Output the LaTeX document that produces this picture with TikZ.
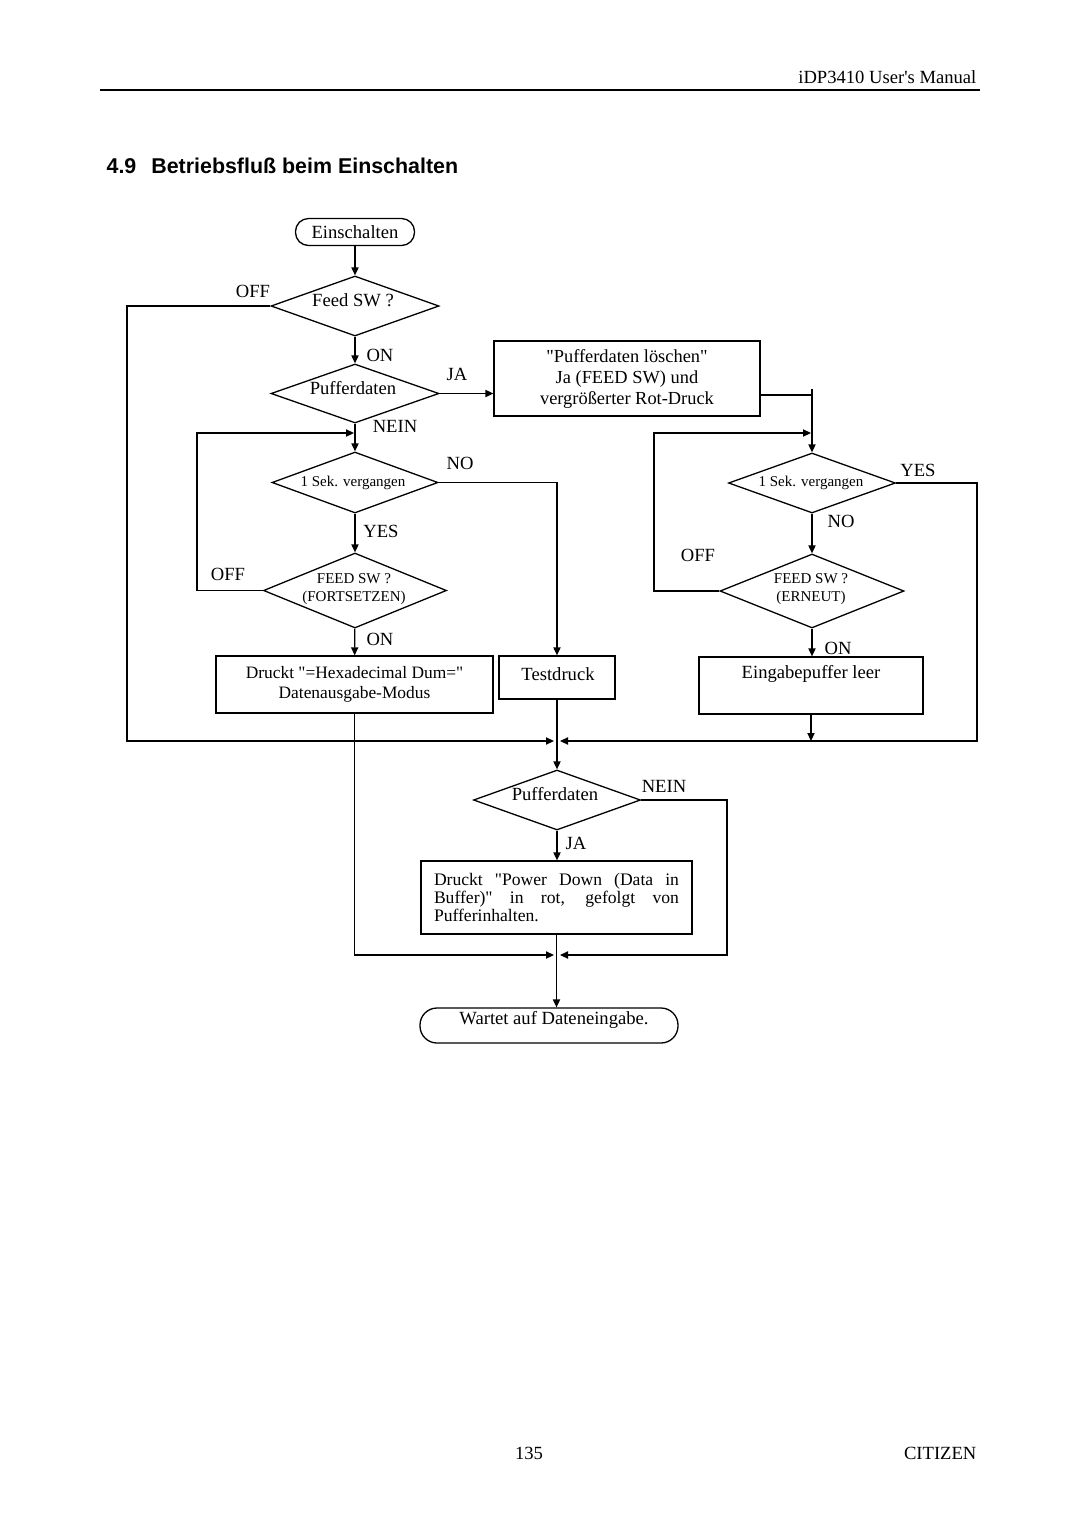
\documentclass[tikz,border=0pt]{standalone}
\usepackage{fontspec}
\setmainfont{Liberation Serif}[Ligatures=TeXOff]
\newfontfamily\headsans{Liberation Sans}
\usetikzlibrary{arrows.meta,shapes.geometric,calc}
\newcommand\fsmain{\fontsize{9.3}{10}\selectfont}
\newcommand\fssmall{\fontsize{7.5}{9}\selectfont}
\begin{document}
\begin{tikzpicture}[x=0.5pt,y=-0.5pt,
  line width=0.65pt,
  every node/.style={font=\fsmain, inner sep=0pt},
  arr/.style={-{Triangle[length=4pt,width=3.6pt]}},
  dia/.style 2 args={diamond, draw, minimum width=#1, minimum height=#2},
  boxn/.style 2 args={rectangle, draw, minimum width=#1, minimum height=#2, align=center},
  smalltxt/.style={font=\fssmall, align=center},
  lbl/.style={font=\fsmain}]
\path[use as bounding box] (0,0) rectangle (1080,1528);

% page header / footer
\draw[line width=1.2pt] (100,90) -- (980,90);
\node[anchor=base east] (hdr) at (977,83) {iDP3410 User's Manual};
\node[anchor=base west, font=\headsans\bfseries\fontsize{10.7}{12}\selectfont] (ttl) at (106,173) {4.9\hspace{0.7em}Betriebsfluß beim Einschalten};
\node[anchor=base] (pg) at (529,1459) {135};
\node[anchor=base east] (cit) at (977,1459) {CITIZEN};

% nodes
\node[draw, rectangle, rounded corners=6.5pt, minimum width=59.5pt, minimum height=13.5pt] (start) at (355,232) {Einschalten};

\node[dia={84pt}{30pt}] (d1) at (355,306) {};
\node (t1) at (353,300) {Feed SW ?};

\node[dia={84pt}{29.5pt}] (d2) at (355,393.5) {};
\node (t2) at (353,388) {Pufferdaten};

\node[boxn={133pt}{37.5pt}, font=\fontsize{9.2}{10.5}\selectfont] (b1) at (627,378.5) {"Pufferdaten löschen"\\Ja (FEED SW) und\\vergrößerter Rot-Druck};

\node[dia={83pt}{30.5pt}] (d3) at (355,482.5) {};
\node[smalltxt] (t3) at (353,483) {1 Sek. vergangen};

\node[dia={91.5pt}{37.5pt}] (d4) at (355,590.5) {};
\node[smalltxt] (t4) at (354,589) {FEED SW ?\\(FORTSETZEN)};

\node[boxn={138.5pt}{28.5pt}, font=\fontsize{8.7}{10}\selectfont] (b2) at (354.5,684.5) {Druckt "=Hexadecimal Dum="\\Datenausgabe-Modus};

\node[boxn={58pt}{21.5pt}] (b3) at (557,677.5) {};
\node (t5) at (558,674) {Testdruck};

\node[dia={83.5pt}{30pt}] (d5) at (812,483) {};
\node[smalltxt] (t6) at (811,483) {1 Sek. vergangen};

\node[dia={92pt}{37pt}] (d6) at (812,591) {};
\node[smalltxt] (t7) at (811,589) {FEED SW ?\\(ERNEUT)};

\node[boxn={112pt}{28.5pt}] (b4) at (811,685.5) {};
\node (t8) at (811,674) {Eingabepuffer leer};

\node[dia={83.5pt}{30pt}] (d7) at (557,800) {};
\node (t9) at (555,794) {Pufferdaten};

\node[rectangle, draw, minimum width=135.5pt, minimum height=36.5pt, text width=122.5pt, align=justify, font=\fontsize{8.8}{9}\selectfont] (b5) at (556.5,897.5) {Druckt "Power Down (Data in\linebreak Buffer)" in rot, gefolgt von\linebreak Pufferinhalten.};

\node[draw, rectangle, rounded corners=8.5pt, minimum width=129pt, minimum height=17.5pt] (endn) at (549,1025.5) {};
\node (t10) at (554,1020) {Wartet auf Dateneingabe.};

% branch labels
\node[lbl] (l1) at (253,291) {OFF};
\node[lbl] (l2) at (380,355) {ON};
\node[lbl] (l3) at (457,374) {JA};
\node[lbl] (l4) at (395,426) {NEIN};
\node[lbl] (l5) at (460,463) {NO};
\node[lbl] (l6) at (381,531) {YES};
\node[lbl] (l7) at (228,574) {OFF};
\node[lbl] (l8) at (380,639) {ON};
\node[lbl] (l9) at (918,470) {YES};
\node[lbl] (l10) at (841,521) {NO};
\node[lbl] (l11) at (698,555) {OFF};
\node[lbl] (l12) at (838,648) {ON};
\node[lbl] (l13) at (664,786) {NEIN};
\node[lbl] (l14) at (576,843) {JA};

% helper coordinates
\coordinate (kL) at (127,741);
\coordinate (jL) at (554,741);
\coordinate (jR) at (560,741);
\coordinate (b1o) at (760,395);
\coordinate (stub) at (812,389);
\coordinate (lp) at (197,433);
\coordinate (mL) at (354,433);
\coordinate (rl) at (654,433);
\coordinate (mR) at (811,433);
\coordinate (rr) at (977,741);
\coordinate (rb) at (727,955);
\coordinate (jL2) at (554,955);
\coordinate (jR2) at (560,955);

% connectors
\draw[arr] (start) -- (d1);
\draw[arr] (d1.west) -| (kL) -- (jL);
\draw[arr] (d1) -- (d2);
\draw[arr] (d2.east) -- (b1.west |- d2.east);
\draw[arr] (b1o) -| (d5.north);
\draw (stub) -- (stub |- b1o);
\draw[arr] (d2) -- (d3);
\draw[arr] (d4.west) -| (lp) -- (mL);
\draw[arr] (d3.east) -| (b3.north);
\draw[arr] (d3) -- (d4);
\draw[arr] (d4) -- (b2);
\draw[arr] (b2.south) |- (jL2);
\draw[arr] (b3.south) -- (d7.north);
\draw[arr] (d5.east) -| (rr) -- (jR);
\draw[arr] (d5) -- (d6);
\draw[arr] (d6.west) -| (rl) -- (mR);
\draw[arr] (d6) -- (d6.south |- b4.north);
\draw[arr] (b4.south) -- (b4.south |- jR);
\draw[arr] (d7.east) -| (rb) -- (jR2);
\draw[arr] (d7) -- (d7.south |- b5.north);
\draw[arr] (b5.south) -- (b5.south |- endn.north);
\end{tikzpicture}
\end{document}
